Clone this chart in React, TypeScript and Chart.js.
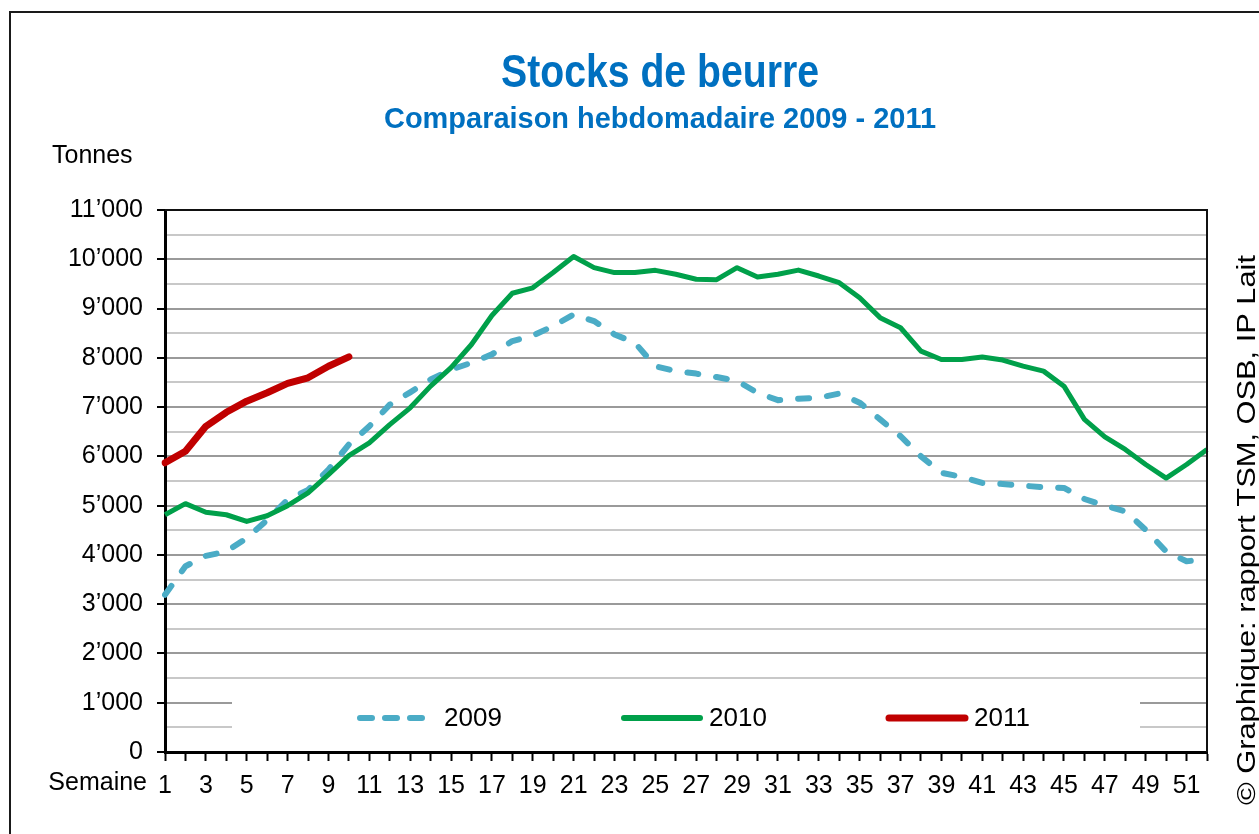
import React, { useEffect, useRef } from "react";
import { Chart, registerables } from "chart.js";

Chart.register(...registerables);

const weeks = [
  1, 2, 3, 4, 5, 6, 7, 8, 9, 10, 11, 12, 13, 14, 15, 16, 17, 18, 19, 20, 21, 22, 23, 24, 25, 26,
  27, 28, 29, 30, 31, 32, 33, 34, 35, 36, 37, 38, 39, 40, 41, 42, 43, 44, 45, 46, 47, 48, 49, 50, 51, 52,
];

const stocks2009 = [
  3190, 3770, 3980, 4070, 4340, 4710, 5120, 5320, 5730, 6240, 6610, 7050, 7300, 7560, 7760, 7900,
  8070, 8340, 8450, 8645, 8880, 8745, 8475, 8305, 7830, 7730, 7680, 7610, 7530, 7290, 7140, 7170,
  7190, 7275, 7090, 6750, 6410, 6000, 5665, 5585, 5460, 5440, 5405, 5375, 5360, 5135, 5000, 4885,
  4510, 4070, 3870, 3915,
];

const stocks2010 = [
  4815, 5040, 4865, 4815, 4680, 4795, 5000, 5260, 5630, 6015, 6275, 6645, 6985, 7425, 7800, 8270,
  8860, 9310, 9420, 9730, 10055, 9830, 9730, 9730, 9775, 9695, 9595, 9585, 9830, 9640, 9695, 9780,
  9660, 9525, 9220, 8815, 8610, 8135, 7965, 7965, 8015, 7955, 7830, 7730, 7425, 6750, 6395, 6140,
  5835, 5560, 5835, 6140,
];

const stocks2011 = [5870, 6105, 6610, 6895, 7120, 7290, 7480, 7595, 7830, 8020];

const seriesLabels = ["2009", "2010", "2011"];
const seriesColors = ["#4BACC6", "#00A04A", "#C00000"];

const titleText = "Stocks de beurre";
const subtitleText = "Comparaison hebdomadaire 2009 - 2011";
const yAxisTitle = "Tonnes";
const xAxisTitle = "Semaine";
const sourceText = "© Graphique: rapport TSM, OSB, IP Lait";

const SANS = "'Liberation Sans', Arial, sans-serif";

function fmtThousands(v: number): string {
  if (v === 0) return "0";
  const k = Math.floor(v / 1000);
  return `${k}’000`;
}

function fillFitted(ctx: CanvasRenderingContext2D, text: string, cx: number, baseline: number, width: number) {
  const w = ctx.measureText(text).width;
  ctx.save();
  ctx.translate(cx, baseline);
  ctx.scale(width / w, 1);
  ctx.textAlign = "center";
  ctx.fillText(text, 0, 0);
  ctx.restore();
}

const decorPlugin = {
  id: "decor",
  beforeDatasetsDraw(chart: any) {
    const ctx = chart.ctx;
    const y = chart.scales.y;
    ctx.save();
    const top = y.getPixelForValue(1500) + 6;
    const bottom = y.getPixelForValue(0) - 3;
    ctx.fillStyle = "#ffffff";
    ctx.fillRect(232, top, 1140 - 232, bottom - top);
    ctx.restore();
  },
  afterDraw(chart: any) {
    const ctx = chart.ctx;
    const area = chart.chartArea;
    ctx.save();

    // outer frame
    ctx.strokeStyle = "#1a1a1a";
    ctx.lineWidth = 2;
    ctx.strokeRect(10, 12, 1400, 1000);

    // plot top and right borders
    ctx.strokeStyle = "#111";
    ctx.lineWidth = 2;
    ctx.beginPath();
    ctx.moveTo(area.left, area.top);
    ctx.lineTo(area.right, area.top);
    ctx.lineTo(area.right, area.bottom);
    ctx.stroke();

    // titles
    ctx.fillStyle = "#0070C0";
    ctx.textBaseline = "alphabetic";
    ctx.font = `bold 46px ${SANS}`;
    fillFitted(ctx, titleText, 660, 87, 318);
    ctx.font = `bold 30px ${SANS}`;
    fillFitted(ctx, subtitleText, 660, 128, 552);

    // axis titles
    ctx.fillStyle = "#000";
    ctx.font = `25px ${SANS}`;
    ctx.textAlign = "left";
    ctx.fillText(yAxisTitle, 52, 163);
    ctx.textAlign = "right";
    ctx.fillText(xAxisTitle, 147, 790);

    // legend
    const ly = 718;
    const items = [
      { x0: 357, x1: 430, tx: 444, dash: [12, 13], w: 6 },
      { x0: 621, x1: 703, tx: 709, dash: [], w: 6 },
      { x0: 886, x1: 968, tx: 974, dash: [], w: 7 },
    ];
    items.forEach((it, i) => {
      ctx.strokeStyle = seriesColors[i];
      ctx.lineWidth = it.w;
      ctx.lineCap = "round";
      ctx.setLineDash(it.dash);
      ctx.beginPath();
      ctx.moveTo(it.x0 + 3, ly);
      ctx.lineTo(it.x1 - 3, ly);
      ctx.stroke();
      ctx.setLineDash([]);
      ctx.fillStyle = "#000";
      ctx.textAlign = "left";
      ctx.textBaseline = "middle";
      ctx.font = `26px ${SANS}`;
      ctx.fillText(seriesLabels[i], it.tx, ly + 1);
    });

    // rotated source text
    ctx.translate(1248, 805);
    ctx.rotate(-Math.PI / 2);
    ctx.font = `25px ${SANS}`;
    ctx.textAlign = "left";
    ctx.textBaseline = "middle";
    const w = ctx.measureText(sourceText).width;
    ctx.scale(550 / w, 1);
    ctx.fillText(sourceText, 0, 0);

    ctx.restore();
  },
};

export default function App() {
  const canvasRef = useRef<HTMLCanvasElement | null>(null);

  useEffect(() => {
    const canvas = canvasRef.current;
    if (!canvas) return;
    const chart = new Chart(canvas, {
      type: "line",
      data: {
        labels: weeks.map(String),
        datasets: [
          {
            label: seriesLabels[0],
            data: stocks2009,
            borderColor: seriesColors[0],
            borderWidth: 6,
            borderDash: [11, 18],
            borderCapStyle: "round",
            borderJoinStyle: "round",
            pointRadius: 0,
            tension: 0,
            fill: false,
            order: 3,
          },
          {
            label: seriesLabels[1],
            data: stocks2010,
            borderColor: seriesColors[1],
            borderWidth: 5,
            borderJoinStyle: "round",
            pointRadius: 0,
            tension: 0,
            fill: false,
            order: 2,
          },
          {
            label: seriesLabels[2],
            data: stocks2011,
            borderColor: seriesColors[2],
            borderWidth: 7,
            borderCapStyle: "round",
            borderJoinStyle: "round",
            pointRadius: 0,
            tension: 0,
            fill: false,
            order: 1,
          },
        ],
      },
      options: {
        responsive: false,
        animation: false,
        devicePixelRatio: 1,
        layout: { padding: { left: 0, top: 210, right: 52, bottom: 22 } },
        plugins: {
          legend: { display: false },
          title: { display: false },
          tooltip: { enabled: false },
        },
        scales: {
          x: {
            type: "category",
            offset: false,
            afterFit(scale: any) {
              scale.height = 60;
            },
            grid: {
              offset: false,
              drawOnChartArea: false,
              drawTicks: true,
              tickLength: 9,
              tickColor: "#000",
              tickWidth: 2,
            },
            border: { display: true, color: "#000", width: 3 },
            ticks: {
              autoSkip: false,
              maxRotation: 0,
              minRotation: 0,
              padding: 10,
              color: "#000",
              font: { family: SANS, size: 25 },
              callback: (_v: any, index: number) => (index % 2 === 0 ? String(weeks[index]) : ""),
            },
          },
          y: {
            min: 0,
            max: 11000,
            afterFit(scale: any) {
              scale.width = 165;
            },
            grid: {
              color: (c: any) => {
                const v = c.tick ? c.tick.value : 0;
                if (v === 11000) return "#222";
                return v % 1000 === 0 ? "#9a9a9a" : "#c8c8c8";
              },
              lineWidth: 2,
              tickLength: 8,
              tickWidth: 2,
              tickColor: (c: any) => {
                const v = c.tick ? c.tick.value : 0;
                return v % 1000 === 0 ? "#000" : "rgba(0,0,0,0)";
              },
            },
            border: { display: true, color: "#000", width: 3 },
            ticks: {
              stepSize: 500,
              autoSkip: false,
              padding: 14,
              color: "#000",
              font: { family: SANS, size: 25 },
              callback: (v: any) => {
                const n = Number(v);
                return n % 1000 === 0 ? fmtThousands(n) : "";
              },
            },
          },
        },
      },
      plugins: [decorPlugin],
    } as any);
    return () => chart.destroy();
  }, []);

  return (
    <div style={{ position: "fixed", left: 0, top: 0, width: 1259, height: 834, background: "#fff" }}>
      <canvas ref={canvasRef} width={1259} height={834} style={{ display: "block", width: 1259, height: 834 }} />
    </div>
  );
}
